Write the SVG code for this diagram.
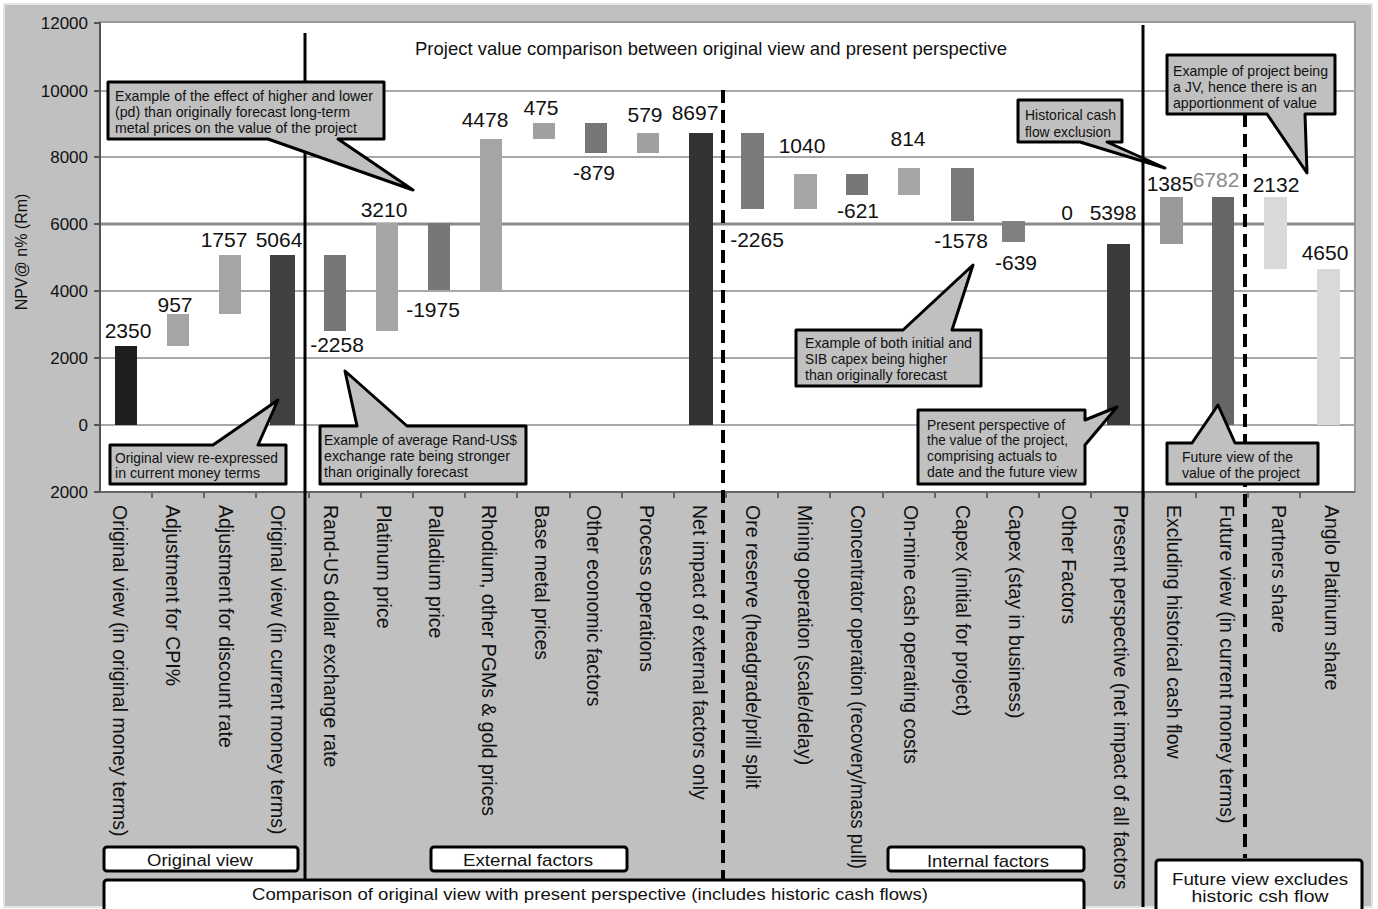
<svg xmlns="http://www.w3.org/2000/svg" width="1378" height="909" viewBox="0 0 1378 909">
<style>
text{font-family:"Liberation Sans",Arial,sans-serif;fill:#111}
.tick{font-size:17px;text-anchor:end}
.val{font-size:21px;text-anchor:middle}
.cat{font-size:19.5px}
.co{font-size:15px}
.grid{stroke:#a8a8a8;stroke-width:2}
.bubble{fill:#c0c0c0;stroke:#000;stroke-width:3;stroke-linejoin:round}
.box{fill:#fff;stroke:#000;stroke-width:3}
.sep{stroke:#000;stroke-width:3}
.dash{stroke:#000;stroke-width:4;stroke-dasharray:13 7}
.lbl{font-size:17px;text-anchor:middle}
</style>
<rect x="0" y="0" width="1378" height="909" fill="#fff"/>
<rect x="4" y="4" width="1368" height="903" fill="#c0c0c0" stroke="#e4e4e4" stroke-width="2"/>
<g id="plot-area">
<rect x="100" y="22" width="1255" height="470" fill="#fff" stroke="#9a9a9a" stroke-width="2"/>
<line class="grid" x1="100" y1="91" x2="1355" y2="91"/>
<line class="grid" x1="100" y1="157" x2="1355" y2="157"/>
<line x1="100" y1="224" x2="1355" y2="224" stroke="#8a8a8a" stroke-width="3"/>
<line class="grid" x1="100" y1="291" x2="1355" y2="291"/>
<line class="grid" x1="100" y1="358" x2="1355" y2="358"/>
<line class="grid" x1="100" y1="425" x2="1355" y2="425"/>
</g>
<g id="axes">
<line x1="100" y1="22" x2="100" y2="492" stroke="#555" stroke-width="2"/>
<line x1="100" y1="492" x2="1355" y2="492" stroke="#666" stroke-width="2"/>
<path d="M94,23H100M94,91H100M94,157H100M94,224H100M94,291H100M94,358H100M94,425H100M94,492H100" stroke="#555" stroke-width="2"/>
<path d="M152,492v6M204,492v6M256,492v6M309,492v6M361,492v6M413,492v6M465,492v6M517,492v6M570,492v6M622,492v6M674,492v6M726,492v6M778,492v6M830,492v6M883,492v6M935,492v6M987,492v6M1039,492v6M1091,492v6M1144,492v6M1196,492v6M1248,492v6M1300,492v6" stroke="#666" stroke-width="2"/>
<text class="tick" x="88" y="29">12000</text>
<text class="tick" x="88" y="97">10000</text>
<text class="tick" x="88" y="163">8000</text>
<text class="tick" x="88" y="230">6000</text>
<text class="tick" x="88" y="297">4000</text>
<text class="tick" x="88" y="364">2000</text>
<text class="tick" x="88" y="431">0</text>
<text class="tick" x="88" y="498">2000</text>
<text x="0" y="0" font-size="16" text-anchor="middle" transform="translate(27,252) rotate(-90)">NPV@ n% (Rm)</text>
</g>
<text id="title" x="711" y="55" font-size="19" text-anchor="middle" textLength="592" lengthAdjust="spacingAndGlyphs">Project value comparison between original view and present perspective</text>
<g id="bars">
<rect x="115" y="346" width="22" height="79" fill="#1f1f1f"/>
<rect x="167" y="314" width="22" height="32" fill="#a5a5a5"/>
<rect x="219" y="255" width="22" height="59" fill="#a5a5a5"/>
<rect x="270" y="255" width="25" height="170" fill="#404040"/>
<rect x="324" y="255" width="22" height="76" fill="#777"/>
<rect x="376" y="223" width="22" height="108" fill="#a5a5a5"/>
<rect x="428" y="223" width="22" height="67" fill="#777"/>
<rect x="480" y="139" width="22" height="151" fill="#a5a5a5"/>
<rect x="533" y="123" width="22" height="16" fill="#a0a0a0"/>
<rect x="585" y="123" width="22" height="30" fill="#777"/>
<rect x="637" y="133" width="22" height="20" fill="#a0a0a0"/>
<rect x="689" y="133" width="24" height="292" fill="#333"/>
<rect x="741" y="133" width="23" height="76" fill="#7a7a7a"/>
<rect x="794" y="174" width="23" height="35" fill="#a5a5a5"/>
<rect x="846" y="174" width="22" height="21" fill="#777"/>
<rect x="898" y="168" width="22" height="27" fill="#a5a5a5"/>
<rect x="951" y="168" width="23" height="53" fill="#7a7a7a"/>
<rect x="1002" y="221" width="23" height="21" fill="#808080"/>
<rect x="1107" y="244" width="23" height="181" fill="#3a3a3a"/>
<rect x="1160" y="197" width="23" height="47" fill="#999"/>
<rect x="1212" y="197" width="22" height="228" fill="#666"/>
<rect x="1264" y="197" width="23" height="72" fill="#d9d9d9"/>
<rect x="1317" y="269" width="23" height="156" fill="#d9d9d9"/>
</g>
<g id="values">
<text class="val" x="128" y="338">2350</text>
<text class="val" x="175" y="312">957</text>
<text class="val" x="224" y="247">1757</text>
<text class="val" x="279" y="247">5064</text>
<text class="val" x="337" y="352">-2258</text>
<text class="val" x="384" y="217">3210</text>
<text class="val" x="433" y="317">-1975</text>
<text class="val" x="485" y="127">4478</text>
<text class="val" x="541" y="115">475</text>
<text class="val" x="594" y="180">-879</text>
<text class="val" x="645" y="122">579</text>
<text class="val" x="695" y="120">8697</text>
<text class="val" x="757" y="247">-2265</text>
<text class="val" x="802" y="153">1040</text>
<text class="val" x="858" y="218">-621</text>
<text class="val" x="908" y="146">814</text>
<text class="val" x="961" y="248">-1578</text>
<text class="val" x="1016" y="270">-639</text>
<text class="val" x="1067" y="220">0</text>
<text class="val" x="1113" y="220">5398</text>
<text class="val" x="1170" y="191">1385</text>
<text class="val" x="1216" y="187" font-size="19" style="fill:#8a8a8a">6782</text>
<text class="val" x="1276" y="192">2132</text>
<text class="val" x="1325" y="260">4650</text>
</g>
<g id="categories">
<text class="cat" transform="translate(113,505) rotate(90)">Original view (in original money terms)</text>
<text class="cat" transform="translate(166,505) rotate(90)">Adjustment for CPI%</text>
<text class="cat" transform="translate(219,505) rotate(90)">Adjustment for discount rate</text>
<text class="cat" transform="translate(271,505) rotate(90)">Original view (in current money terms)</text>
<text class="cat" transform="translate(324,505) rotate(90)">Rand-US dollar exchange rate</text>
<text class="cat" transform="translate(377,505) rotate(90)">Platinum price</text>
<text class="cat" transform="translate(429,505) rotate(90)">Palladium price</text>
<text class="cat" transform="translate(482,505) rotate(90)">Rhodium, other PGMs &amp; gold prices</text>
<text class="cat" transform="translate(535,505) rotate(90)">Base metal prices</text>
<text class="cat" transform="translate(587,505) rotate(90)">Other economic factors</text>
<text class="cat" transform="translate(640,505) rotate(90)">Process operations</text>
<text class="cat" transform="translate(693,505) rotate(90)">Net impact of external factors only</text>
<text class="cat" transform="translate(746,505) rotate(90)">Ore reserve (headgrade/prill split</text>
<text class="cat" transform="translate(798,505) rotate(90)">Mining operation (scale/delay)</text>
<text class="cat" transform="translate(851,505) rotate(90)" textLength="364" lengthAdjust="spacingAndGlyphs">Concentrator operation (recovery/mass pull)</text>
<text class="cat" transform="translate(904,505) rotate(90)">On-mine cash operating costs</text>
<text class="cat" transform="translate(956,505) rotate(90)">Capex (initial for project)</text>
<text class="cat" transform="translate(1009,505) rotate(90)">Capex (stay in business)</text>
<text class="cat" transform="translate(1062,505) rotate(90)">Other Factors</text>
<text class="cat" transform="translate(1114,505) rotate(90)">Present perspective (net impact of all factors</text>
<text class="cat" transform="translate(1167,505) rotate(90)">Excluding historical cash flow</text>
<text class="cat" transform="translate(1220,505) rotate(90)">Future view (in current money terms)</text>
<text class="cat" transform="translate(1272,505) rotate(90)">Partners share</text>
<text class="cat" transform="translate(1325,505) rotate(90)">Anglo Platinum share</text>
</g>
<g id="connectors">
<line class="sep" x1="305" y1="33" x2="305" y2="879"/>
<line class="dash" x1="723" y1="90" x2="723" y2="880"/>
<line class="sep" x1="1143" y1="25" x2="1143" y2="907"/>
<line class="dash" x1="1245" y1="114" x2="1245" y2="858"/>
</g>
<g id="callout-metal-prices">
<path class="bubble" d="M108,82H384V139H338L413,190L268,139H108Z"/>
<text class="co" x="115" y="101" textLength="258" lengthAdjust="spacingAndGlyphs">Example of the effect of higher and lower</text>
<text class="co" x="115" y="117" textLength="235" lengthAdjust="spacingAndGlyphs">(pd) than originally forecast long-term</text>
<text class="co" x="115" y="133" textLength="242" lengthAdjust="spacingAndGlyphs">metal prices on the value of the project</text>
</g>
<g id="callout-rand">
<path class="bubble" d="M320,426H357L345,371L407,426H526V484H320Z"/>
<text class="co" x="324" y="445" textLength="193" lengthAdjust="spacingAndGlyphs">Example of average Rand-US$</text>
<text class="co" x="324" y="461" textLength="186" lengthAdjust="spacingAndGlyphs">exchange rate being stronger</text>
<text class="co" x="324" y="477" textLength="144" lengthAdjust="spacingAndGlyphs">than originally forecast</text>
</g>
<g id="callout-original-view">
<path class="bubble" d="M110,445H213L278,400L258,445H286V484H110Z"/>
<text class="co" x="115" y="463" textLength="163" lengthAdjust="spacingAndGlyphs">Original view re-expressed</text>
<text class="co" x="115" y="478" textLength="145" lengthAdjust="spacingAndGlyphs">in current money terms</text>
</g>
<g id="callout-capex">
<path class="bubble" d="M796,330H903L973,265L952,330H981V386H796Z"/>
<text class="co" x="805" y="348" textLength="167" lengthAdjust="spacingAndGlyphs">Example of both initial and</text>
<text class="co" x="805" y="364" textLength="142" lengthAdjust="spacingAndGlyphs">SIB capex being higher</text>
<text class="co" x="805" y="380" textLength="142" lengthAdjust="spacingAndGlyphs">than originally forecast</text>
</g>
<g id="callout-present">
<path class="bubble" d="M918,410H1085V420L1117,407L1085,445V484H918Z"/>
<text class="co" x="927" y="430" textLength="138" lengthAdjust="spacingAndGlyphs">Present perspective of</text>
<text class="co" x="927" y="445" textLength="141" lengthAdjust="spacingAndGlyphs">the value of the project,</text>
<text class="co" x="927" y="461" textLength="130" lengthAdjust="spacingAndGlyphs">comprising actuals to</text>
<text class="co" x="927" y="477" textLength="150" lengthAdjust="spacingAndGlyphs">date and the future view</text>
</g>
<g id="callout-historical">
<path class="bubble" d="M1018,100H1122V142H1107L1165,168L1080,142H1018Z"/>
<text class="co" x="1025" y="120" font-size="16" textLength="91" lengthAdjust="spacingAndGlyphs">Historical cash</text>
<text class="co" x="1025" y="137" font-size="16" textLength="86" lengthAdjust="spacingAndGlyphs">flow exclusion</text>
</g>
<g id="callout-jv">
<path class="bubble" d="M1167,55H1335V114H1305L1307,173L1267,114H1167Z"/>
<text class="co" x="1173" y="76" textLength="155" lengthAdjust="spacingAndGlyphs">Example of project being</text>
<text class="co" x="1173" y="92" textLength="144" lengthAdjust="spacingAndGlyphs">a JV, hence there is an</text>
<text class="co" x="1173" y="108" textLength="144" lengthAdjust="spacingAndGlyphs">apportionment of value</text>
</g>
<g id="callout-future">
<path class="bubble" d="M1167,443H1192L1218,405L1235,443H1318V484H1167Z"/>
<text class="co" x="1182" y="462" font-size="16" textLength="111" lengthAdjust="spacingAndGlyphs">Future view of the</text>
<text class="co" x="1182" y="478" font-size="16" textLength="118" lengthAdjust="spacingAndGlyphs">value of the project</text>
</g>
<g id="group-original-view">
<rect class="box" x="104" y="847" width="194" height="24" rx="3"/>
<text class="lbl" x="200" y="866" textLength="106" lengthAdjust="spacingAndGlyphs">Original view</text>
</g>
<g id="group-external">
<rect class="box" x="431" y="847" width="196" height="24" rx="3"/>
<text class="lbl" x="528" y="866" textLength="130" lengthAdjust="spacingAndGlyphs">External factors</text>
</g>
<g id="group-internal">
<rect class="box" x="888" y="847" width="196" height="24" rx="3"/>
<text class="lbl" x="988" y="867" textLength="122" lengthAdjust="spacingAndGlyphs">Internal factors</text>
</g>
<g id="group-comparison">
<rect class="box" x="104" y="880" width="980" height="32" rx="3"/>
<text class="lbl" x="590" y="900" textLength="676" lengthAdjust="spacingAndGlyphs">Comparison of original view with present perspective (includes historic cash flows)</text>
</g>
<g id="group-future">
<rect class="box" x="1156" y="860" width="206" height="52" rx="3"/>
<text class="lbl" x="1260" y="885" font-size="19" textLength="176" lengthAdjust="spacingAndGlyphs">Future view excludes</text>
<text class="lbl" x="1260" y="902" font-size="19" textLength="137" lengthAdjust="spacingAndGlyphs">historic csh flow</text>
</g>
</svg>
